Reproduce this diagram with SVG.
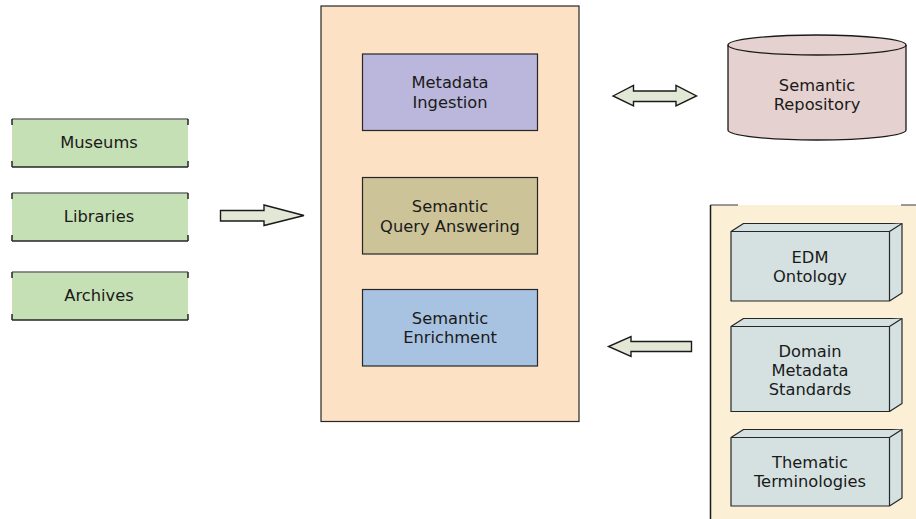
<svg xmlns="http://www.w3.org/2000/svg" width="916" height="519" viewBox="0 0 916 519">
  <style>
    text { font-family: "DejaVu Sans", Verdana, sans-serif; font-size: 16.3px; fill: #1a1a1a; text-anchor: middle; }
    .src { fill: #c5e0b4; stroke: none; }
    .edge { stroke: #262626; stroke-width: 1.5; fill: none; }
    .edge-top { stroke: #6e6e6e; stroke-width: 1.5; fill: none; }
    .box { stroke: #262626; stroke-width: 1.2; }
    .block { fill: #d5e1e1; stroke: #262626; stroke-width: 1.2; stroke-linejoin: round; }
    .arrow { fill: #e3e8d6; stroke: #1a1a1a; stroke-width: 1.4; stroke-linejoin: miter; }
  </style>

  <!-- data sources -->
  <g id="museums">
    <rect class="src" x="12" y="119" width="176" height="48"/>
    <path class="edge-top" d="M12,119 H188"/>
    <path class="edge" d="M12,167 H188 M12,119 V125 M12,161 V167 M188,119 V125 M188,161 V167"/>
    <text x="99" y="148">Museums</text>
  </g>
  <g id="libraries">
    <rect class="src" x="12" y="193" width="176" height="48"/>
    <path class="edge-top" d="M12,193 H188"/>
    <path class="edge" d="M12,241 H188 M12,193 V199 M12,235 V241 M188,193 V199 M188,235 V241"/>
    <text x="99" y="222">Libraries</text>
  </g>
  <g id="archives">
    <rect class="src" x="12" y="272" width="176" height="48"/>
    <path class="edge-top" d="M12,272 H188"/>
    <path class="edge" d="M12,320 H188 M12,272 V278 M12,314 V320 M188,272 V278 M188,314 V320"/>
    <text x="99" y="301">Archives</text>
  </g>

  <!-- processing platform -->
  <g id="platform">
    <rect x="321" y="6" width="258" height="415.5" fill="#fde1c4" class="box"/>
  </g>
  <g id="ingestion">
    <rect x="362.5" y="54" width="175" height="76.5" fill="#bbb6db" class="box"/>
    <text x="450" y="88">Metadata</text>
    <text x="450" y="108">Ingestion</text>
  </g>
  <g id="query-answering">
    <rect x="362.5" y="177.5" width="175" height="76.5" fill="#ccc399" class="box"/>
    <text x="450" y="212">Semantic</text>
    <text x="450" y="231.5">Query Answering</text>
  </g>
  <g id="enrichment">
    <rect x="362.5" y="289.5" width="175" height="76.5" fill="#a8c3e1" class="box"/>
    <text x="450" y="323.5">Semantic</text>
    <text x="450" y="343">Enrichment</text>
  </g>

  <!-- repository -->
  <g id="repository">
    <path d="M728,45 V130 A89,10 0 0 0 906,130 V45 A89,10 0 0 0 728,45 Z" fill="#e5d1cf" stroke="#1a1a1a" stroke-width="1.3"/>
    <path d="M728,45 A89,10 0 0 0 906,45" fill="none" stroke="#1a1a1a" stroke-width="1.3"/>
    <text x="817" y="91">Semantic</text>
    <text x="817" y="110">Repository</text>
  </g>

  <!-- knowledge resources -->
  <g id="resources">
    <rect x="710.5" y="205" width="206" height="314" fill="#fbefd6"/>
    <path d="M710.5,205 H738 M901,205 H916" stroke="#7a7a7a" stroke-width="1.5" fill="none"/>
    <path d="M710.5,205 V519" stroke="#1a1a1a" stroke-width="1.5" fill="none"/>
  </g>
  <g id="edm-ontology">
    <path class="block" d="M731,231.5 L743.5,223.5 H902 V293 L889.5,301 H731 Z"/>
    <path class="block" d="M731,231.5 H889.5 L902,223.5 M889.5,231.5 V301" fill="none"/>
    <text x="810" y="263">EDM</text>
    <text x="810" y="282">Ontology</text>
  </g>
  <g id="domain-standards">
    <path class="block" d="M731,326.5 L743.5,318.5 H902 V403.5 L889.5,411.5 H731 Z"/>
    <path class="block" d="M731,326.5 H889.5 L902,318.5 M889.5,326.5 V411.5" fill="none"/>
    <text x="810" y="357">Domain</text>
    <text x="810" y="375.5">Metadata</text>
    <text x="810" y="394.5">Standards</text>
  </g>
  <g id="thematic-terminologies">
    <path class="block" d="M731,437.5 L743.5,429.5 H902 V498 L889.5,506 H731 Z"/>
    <path class="block" d="M731,437.5 H889.5 L902,429.5 M889.5,437.5 V506" fill="none"/>
    <text x="810" y="468">Thematic</text>
    <text x="810" y="487">Terminologies</text>
  </g>

  <!-- block arrows between components -->
  <g id="connectors">
    <path class="arrow" d="M220.5,210.5 H264 V205 L304,215.5 L264,225.5 V221 H220.5 Z"/>
    <path class="arrow" d="M613,96 L633.5,85.5 V91 H676 V85.5 L696.5,96 L676,106 V101.5 H633.5 V106 Z"/>
    <path class="arrow" d="M691.5,341.5 H631 V336.5 L608.5,346.5 L631,356.5 V351.5 H691.5 Z"/>
  </g>
</svg>
